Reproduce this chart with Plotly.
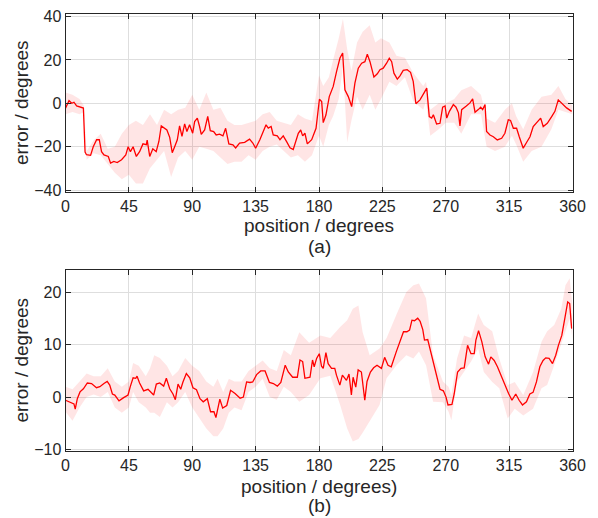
import plotly.graph_objects as go

# ---------------- data: panel (a) ----------------
a_pos = [0, 2.5, 4.4, 6, 7.9, 12.7, 13.9, 14.9, 17.8, 19.7, 22.1, 24, 25.6, 27.3, 30.4, 32, 34.3, 36.7, 39.8,
         42.8, 44.5, 46.1, 48, 50.3, 52.6, 55, 57.4, 58, 59.8, 62, 64.4, 66.3, 68, 70.3, 72, 74, 75.8, 77.5,
         79.4, 81, 82.7, 84.6, 86.2, 88.1, 90.3, 91.7, 93.6, 95.2, 96.4, 98.8, 101, 102.8, 105.2, 107, 109.4,
         111.8, 113.7, 116, 118.9, 120.8, 123.6, 127.2, 130.7, 133, 135, 138, 140.4, 142.4, 144, 146, 147.5,
         150.4, 152.3, 154.6, 157, 159.4, 161.7, 165.3, 167, 168.4, 170, 171.7, 174.8, 177.9, 180.3, 181.9,
         183, 184.9, 187.3, 190.1, 192.5, 194.9, 196.8, 198.4, 200.8, 203.2, 205.5, 207.9, 210.3, 212.6,
         214.3, 216.2, 219, 221.4, 223.3, 225.6, 228, 229.9, 231.6, 233.2, 235.6, 237.5, 239.8, 242.6, 245,
         246.9, 248.8, 251.7, 254.5, 256.5, 258.3, 260, 261.2, 263.5, 265.9, 267.8, 269.5, 270.7, 272.6,
         275.4, 277.3, 279, 280.1, 281.3, 284.4, 287.2, 289.1, 290.8, 293.1, 294.8, 296.2, 297.9, 299, 301.4,
         303.8, 306.6, 309.7, 312, 314.4, 316, 318, 320.3, 322.2, 325, 327.9, 329.8, 332.1, 335, 337.4, 339.2,
         342.1, 345.2, 347.5, 349.9, 352.3, 355.8, 359.4]
a_mean = [-2.2, 1.2, 0, 0.5, -1.2, -2.2, -22.5, -23.7, -24, -20, -16.8, -16.8, -22.3, -23.8, -24.5, -27.6,
          -26.8, -27.3, -26, -23.8, -20, -22.3, -20, -24.5, -22.3, -18.7, -19.1, -17, -24.5, -21, -22.3, -17.6,
          -10.4, -11.5, -12.3, -15.7, -22.8, -20, -16.8, -10.4, -15.2, -9.5, -13, -9.9, -13.8, -8.4, -6.8,
          -10.7, -14.3, -12.3, -6, -12.6, -13, -14.6, -14.2, -15, -11.5, -18.7, -19.1, -20.6, -18.3, -18,
          -16.5, -18.3, -20.7, -16.8, -13.2, -9.9, -11.4, -10.7, -14.6, -15, -16.8, -15, -17.7, -20.5, -21.3,
          -13.8, -12.3, -15, -13.8, -18.7, -16.8, -11.5, 1.9, 0.8, -8.9, -5.4, 3.1, 7.8, 14.7, 20.9, 23.2,
          6.2, 3.1, -1.5, 9.3, 16.2, 18.5, 19.2, 22.7, 19.2, 12.1, 13.6, 15.5, 16.2, 18.5, 20.8, 19.2, 13.9,
          11.2, 12.7, 15.2, 15.5, 14.3, 10.1, -0.2, 1.6, 4.7, 7, -6.1, -6.8, -5.3, -9.5, -9.2, -1.8, -1.2,
          -6.8, -3.7, -0.6, -1.8, -4.4, -10.4, -2.9, -1.4, 0.2, 2.0, -4.1, -2.9, -1.8, -2.9, -0.6, -13, -14.6,
          -15.4, -16.9, -16.1, -13.8, -7.6, -7.9, -11.5, -11.5, -15.4, -20.7, -17.5, -15.4, -10.7, -8.4, -6.8,
          -10.7, -9.2, -6.1, -3.7, 1.6, 0.2, -2.1, -3.7]

a_band_pos = [0, 5, 10, 13, 15, 20, 25, 30, 35, 40, 45, 50, 55, 60, 65, 70, 75, 80, 85, 90, 95, 100, 105,
              110, 115, 120, 125, 130, 135, 140, 145, 150, 155, 160, 165, 170, 175, 180, 183, 187, 190, 194,
              197, 200, 203, 207, 211, 216, 220, 224, 230, 235, 241, 247, 254, 256, 259, 265, 270, 276, 281,
              288, 295, 299, 305, 312, 317, 320, 325, 331, 338, 345, 350, 355, 360]
a_upper = [5, 4, 2, -1, -22, -17, -14, -21, -20, -14, -10, -8, -10, -5, -10, -3, -5, -3, -2, 4, -3, 5, -3,
           -2, -8, -10, -10, -9, -8, -5, -4, -8, -9, -10, -5, -7, -8, 13, 8, 12, 20, 30, 39, 25, 15, 28, 33,
           36, 28, 30, 28, 22, 21, 14, 8, 10, -3, 0, 0, 2, 6, 8, 4, -7, -9, -3, 0, -6, -12, -3, 3, 4, 8, 2, -1]
a_lower = [-5, -4, -5, -4, -26, -23, -24, -28, -32, -35, -33, -37, -37, -30, -26, -22, -34, -25, -22, -26,
           -20, -21, -22, -25, -28, -27, -27, -24, -26, -22, -20, -19, -22, -25, -24, -27, -24, -15, -20,
           -10, -6, 2, 17, -18, -8, 3, -3, 4, -3, 2, 10, 8, 12, 1, -3, 1, -15, -12, -9, -9, -14, -5, -5, -20,
           -22, -20, -15, -19, -27, -22, -20, -12, -3, -4, -5]

# ---------------- data: panel (b) ----------------
b_pos = [0, 3, 6, 6.9, 8.4, 10.3, 12.7, 15.5, 18.5, 22, 24.4, 27.3, 29.6, 31.4, 33.3, 35, 38, 41.3, 44.4,
         46, 48, 49.9, 50.8, 52.6, 55.5, 58.6, 62.6, 64.5, 66.9, 69.7, 71.6, 74, 76.3, 78, 79.9, 81.8, 83.4,
         85.8, 88.2, 90.5, 93, 95.5, 97.8, 100.7, 103, 105.4, 106.8, 109.6, 111.6, 114.5, 117.2, 120.4, 124,
         126.3, 128.6, 131, 132.9, 135.7, 138.6, 141.7, 144.8, 147.6, 150.4, 152.9, 156, 158.2, 161.3,
         164.6, 166.5, 168.4, 170, 173.6, 175.4, 176.6, 178.3, 180.2, 181.8, 183, 184.9, 186.5, 188.9,
         191.2, 192.4, 194.8, 196.6, 199.5, 201.3, 203, 204.2, 206.1, 207.8, 210.1, 212.5, 214.1, 216.5,
         218.8, 221.2, 224.3, 226.6, 229, 231.3, 234.9, 237.7, 240, 242.4, 244.3, 246, 247.8, 250.1, 251.8,
         253.7, 254.9, 257.2, 259.6, 262, 264.3, 265.9, 268.3, 270.2, 271.6, 274.4, 276, 278.4, 280.8,
         283.1, 285.5, 287.9, 290.2, 291.4, 293.3, 295.6, 298, 300.4, 302, 304.4, 306.7, 309.1, 311.5,
         314.6, 317, 319.7, 322.1, 324.5, 327.3, 329.7, 332, 334.4, 336.8, 339.1, 341, 343.4, 345.8, 348.1,
         350, 352.4, 354.7, 356.6, 358, 359.4]
b_mean = [-0.6, -0.9, -1.3, -2.3, -0.3, 1.0, 1.6, 2.7, 2.6, 1.8, 2.0, 2.6, 3.0, 2.3, 0.6, 0.4, -0.7, -0.1,
          0.4, 2.0, 3.7, 3.6, 4.0, 2.7, 1.2, 1.5, 0.4, 2.5, 2.7, 2.1, 3.6, 1.6, 0.6, -0.5, 2.5, 1.5, 2.9,
          4.5, 3.7, 1.8, 1.4, -0.3, -0.9, -0.3, -2.8, -2.8, -3.9, -0.4, -2.1, -1.6, 1.3, 0.7, -0.2, 0, 2.9,
          2.8, 2.9, 4.3, 5.0, 5.0, 2.8, 2.6, 2.1, 2.8, 6.1, 4.8, 3.8, 3.8, 7.1, 6.8, 3.6, 3.8, 7.1, 5.8, 7.4,
          8.3, 5.9, 5.5, 8.5, 6.4, 5.5, 5.5, 4.2, 2.3, 4.2, 3.2, 4.4, 0.4, 3.8, 1.9, 5.2, 4.8, -0.6, 3.0,
          4.8, 5.6, 6.1, 5.5, 7.6, 6.1, 5.8, 8.7, 10.9, 12.5, 12.5, 12.8, 14.7, 14.6, 15.1, 14.5, 12.9, 10.9,
          11.0, 8.3, 5.8, 3.6, 1.5, 1.2, 0, -1.5, -1.4, 0.6, 4.8, 5.5, 5.6, 9.9, 8.3, 8.3, 10.9, 12.7, 10.6,
          7.7, 6.3, 7.7, 7.0, 5.8, 4.2, 2.5, 0.7, -0.6, 0.6, -0.6, -1.5, -0.9, 0.6, 0.9, 2.9, 5.8, 7.0, 7.5,
          7.4, 6.4, 8.0, 9.9, 11.8, 15.3, 18.2, 17.9, 13.1]

b_band_pos = [0, 5, 10, 15, 20, 25, 30, 35, 40, 45, 48, 52, 57, 60, 63, 67, 72, 76, 80, 85, 90, 95, 100,
              105, 108, 112, 116, 120, 125, 130, 135, 140, 145, 150, 155, 160, 166, 173, 181, 188, 195, 200,
              204, 208, 211, 216, 223, 228, 235, 242, 247, 251, 256, 261, 268, 272, 274, 278, 283, 288, 293,
              297, 303, 308, 314, 319, 325, 332, 338, 342, 347, 352, 355, 358, 360]
b_upper = [2, 1.5, 3, 4.5, 4, 4, 5.5, 3, 2, 3, 6.5, 6, 4, 5.5, 8, 7.5, 6, 4, 5, 7.5, 6, 5, 3, 2, 3.5, 1,
           3.5, 3, 3, 5, 6, 7, 5.5, 5, 9, 8, 12.4, 10.4, 11.8, 11.3, 13.4, 14.7, 16.9, 17.5, 12.4, 8, 9.3,
           11.3, 15.8, 20.1, 21.4, 21.7, 18.9, 8, 3, 2, 0.4, 7.4, 11.8, 11.3, 16, 13.8, 12.6, 7.4, 2.3, 2.9,
           0.4, 4.8, 10.6, 12.6, 13.8, 16.9, 21.4, 22.7, 17.5]
b_lower = [-2.8, -4.5, -2, 0, 0.5, 0, 1, -2, -3, -2, 1, -1, -2, -3, -3, -3.8, -1, -2, -1, 1, -2, -4, -6,
           -7.5, -7.5, -6, -3, -2, -2.5, 1, 2, 3.5, 0, -0.5, 2, 1, -0.9, 0.4, 3.6, 4.1, -1.5, -6, -8.5, -8,
           -6.8, -4.7, -1.5, 3.6, 6.1, 8, 7.4, 8.7, 6.1, -0.9, -1, -2.8, -4.4, 2.9, 4.8, 6.8, 9.3, 4.8, 2.9,
           1.7, -4.1, -2.2, -3.5, -2.2, 1.7, 2.3, 6.1, 10, 12.5, 15, 11]

x_ticks = [0, 45, 90, 135, 180, 225, 270, 315, 360]
a_yticks = [-40, -20, 0, 20, 40]
b_yticks = [-10, 0, 10, 20]

LINE = "rgb(255,0,0)"
BAND = "rgba(255,0,0,0.1)"
INK = "#262626"
GRID = "#dedede"
FONT = "Helvetica Neue, Liberation Sans, Arial, sans-serif"

# The page body has an 8 px margin, so the figure is 8 px smaller and all
# page-pixel positions below are shifted by that offset.
OFF = 8
W, H = 598 - OFF, 518 - OFF

fig = go.Figure()


def add_panel(pos, mean, bpos, up, lo, xa, ya):
    fig.add_trace(go.Scatter(x=list(bpos) + list(bpos)[::-1], y=list(up) + list(lo)[::-1],
                             fill="toself", fillcolor=BAND, line=dict(width=0), mode="lines",
                             hoverinfo="skip", showlegend=False, xaxis=xa, yaxis=ya))
    fig.add_trace(go.Scatter(x=pos, y=mean, mode="lines", line=dict(color=LINE, width=1.3),
                             showlegend=False, xaxis=xa, yaxis=ya))


add_panel(a_pos, a_mean, a_band_pos, a_upper, a_lower, "x", "y")
add_panel(b_pos, b_mean, b_band_pos, b_upper, b_lower, "x2", "y2")

common_axis = dict(showline=True, linecolor=INK, linewidth=1, mirror="ticks", ticks="inside",
                   ticklen=5, tickcolor=INK, tickwidth=1, showgrid=True, gridcolor=GRID, gridwidth=1,
                   zeroline=False, automargin=False,
                   tickfont=dict(family=FONT, size=16, color=INK))
title_font = dict(family=FONT, size=19, color=INK)


def fx(px):
    return (px - OFF) / W


def fy(py):
    return 1 - (py - OFF) / H


xdom = [fx(65.5), fx(572.5)]
fig.update_layout(
    width=W, height=H,
    margin=dict(l=0, r=0, t=0, b=0, autoexpand=False),
    paper_bgcolor="white", plot_bgcolor="white",
    font=dict(family=FONT, color=INK),
    xaxis=dict(common_axis, domain=xdom, range=[0, 360], tickvals=x_ticks, anchor="y"),
    yaxis=dict(common_axis, domain=[fy(192), fy(14)], range=[-40.9, 41.2], tickvals=a_yticks,
               anchor="x"),
    xaxis2=dict(common_axis, domain=xdom, range=[0, 360], tickvals=x_ticks, anchor="y2"),
    yaxis2=dict(common_axis, domain=[fy(451), fy(270)], range=[-10.3, 24.3], tickvals=b_yticks,
                anchor="x2"),
)


def label(text, px, py, angle=0):
    fig.add_annotation(text=text, x=fx(px), y=fy(py), xref="paper", yref="paper", showarrow=False,
                       font=title_font, xanchor="center", yanchor="middle", textangle=angle)


label("error / degrees", 21, 103, -90)
label("error / degrees", 21, 360.5, -90)
label("position / degrees", 319, 225)
label("(a)", 319, 246)
label("position / degrees)", 319, 486)
label("(b)", 319, 505)

fig.write_html("out.html")
